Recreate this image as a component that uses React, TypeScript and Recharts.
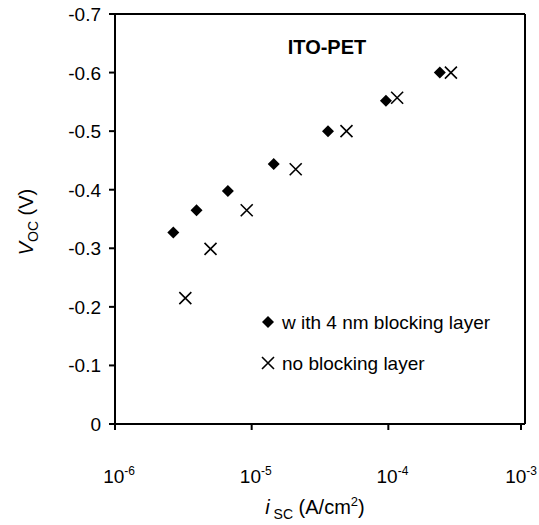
import React from "react";
import { ReferenceLine, Scatter, ScatterChart, XAxis, YAxis } from "recharts";

// i_sc (A/cm2) and V_oc (V)
const blockedIsc = [2.67e-6, 3.95e-6, 6.7e-6, 1.45e-5, 3.62e-5, 9.6e-5, 2.38e-4];
const blockedVoc = [-0.327, -0.365, -0.398, -0.444, -0.5, -0.552, -0.6];
const bareIsc = [3.27e-6, 5.0e-6, 9.2e-6, 2.1e-5, 4.94e-5, 1.16e-4, 2.87e-4];
const bareVoc = [-0.215, -0.299, -0.365, -0.435, -0.5, -0.557, -0.6];

const xTicks = [1e-6, 1e-5, 1e-4, 1e-3];
const xTickExp = ["-6", "-5", "-4", "-3"];
const yTicks = [-0.7, -0.6, -0.5, -0.4, -0.3, -0.2, -0.1, 0];

const seriesNames = ["w ith 4 nm blocking layer", "no blocking layer"];

const FONT = "Arial, 'Liberation Sans', sans-serif";

const blocked = blockedIsc.map((x, i) => ({ x, y: blockedVoc[i] }));
const bare = bareIsc.map((x, i) => ({ x, y: bareVoc[i] }));

function Diamond({ cx, cy }: any) {
  const r = 6;
  return <path d={`M${cx},${cy - r}L${cx + r},${cy}L${cx},${cy + r}L${cx - r},${cy}Z`} fill="#000" />;
}

function Cross({ cx, cy }: any) {
  const r = 6;
  return (
    <path
      d={`M${cx - r},${cy - r}L${cx + r},${cy + r}M${cx - r},${cy + r}L${cx + r},${cy - r}`}
      stroke="#000"
      strokeWidth={1.6}
      fill="none"
    />
  );
}

function XTick({ x, y, payload }: any) {
  const i = xTicks.indexOf(payload.value);
  // right edge of "10^-n"; keep the last one inside the picture
  const right = Math.min(x + 20, 537);
  return (
    <g>
      <line x1={x} y1={y - 8} x2={x} y2={y - 2} stroke="#000" strokeWidth={2} />
      <text x={right} y={y + 51} textAnchor="end" fontSize={19} fontFamily={FONT} fill="#000">
        10
        <tspan dy={-8} fontSize={12}>
          {xTickExp[i]}
        </tspan>
      </text>
    </g>
  );
}

function YTick({ x, y, payload }: any) {
  const v = payload.value;
  return (
    <g>
      <line x1={x + 2} y1={y} x2={x + 8} y2={y} stroke="#000" strokeWidth={2} />
      <text x={x - 6} y={y + 7} textAnchor="end" fontSize={19} fontFamily={FONT} fill="#000">
        {v === 0 ? "0" : v.toFixed(1)}
      </text>
    </g>
  );
}

export default function App() {
  return (
    <div style={{ position: "absolute", left: 0, top: 0, width: 539, height: 525, background: "#fff" }}>
      <ScatterChart width={539} height={525} margin={{ top: 14, right: 14, bottom: 0, left: 0 }}>
        <XAxis
          type="number"
          dataKey="x"
          scale="log"
          domain={[1e-6, 1e-3]}
          ticks={xTicks}
          tick={<XTick />}
          tickLine={false}
          axisLine={{ stroke: "#000", strokeWidth: 2 }}
          height={101}
          allowDataOverflow
        />
        <YAxis
          type="number"
          dataKey="y"
          domain={[-0.7, 0]}
          ticks={yTicks}
          reversed
          tick={<YTick />}
          tickLine={false}
          axisLine={{ stroke: "#000", strokeWidth: 2 }}
          width={115}
          allowDataOverflow
        />
        <ReferenceLine y={-0.7} stroke="#000" strokeWidth={2} />
        <ReferenceLine x={1e-3} stroke="#000" strokeWidth={2} />
        <Scatter name={seriesNames[0]} data={blocked} shape={<Diamond />} isAnimationActive={false} />
        <Scatter name={seriesNames[1]} data={bare} shape={<Cross />} isAnimationActive={false} />
      </ScatterChart>
      <svg
        width={539}
        height={525}
        style={{ position: "absolute", left: 0, top: 0, pointerEvents: "none" }}
      >
        <text x={327} y={54} textAnchor="middle" fontSize={20} fontWeight="bold" fontFamily={FONT}>
          ITO-PET
        </text>
        <Diamond cx={268} cy={322} />
        <text x={282} y={329} fontSize={19} fontFamily={FONT}>
          {seriesNames[0]}
        </text>
        <Cross cx={268} cy={363} />
        <text x={282} y={370} fontSize={19} fontFamily={FONT}>
          {seriesNames[1]}
        </text>
        <text
          transform="translate(33,222) rotate(-90)"
          textAnchor="middle"
          fontSize={20}
          fontFamily={FONT}
        >
          <tspan fontStyle="italic">V</tspan>
          <tspan fontSize={14} dy={5}>OC</tspan>
          <tspan dy={-5}> (V)</tspan>
        </text>
        <text x={315} y={514} textAnchor="middle" fontSize={20} fontFamily={FONT}>
          <tspan fontStyle="italic">i</tspan>
          <tspan fontSize={14} dy={5}> SC</tspan>
          <tspan dy={-5}> (A/cm</tspan>
          <tspan fontSize={13} dy={-8}>2</tspan>
          <tspan dy={8}>)</tspan>
        </text>
      </svg>
    </div>
  );
}
